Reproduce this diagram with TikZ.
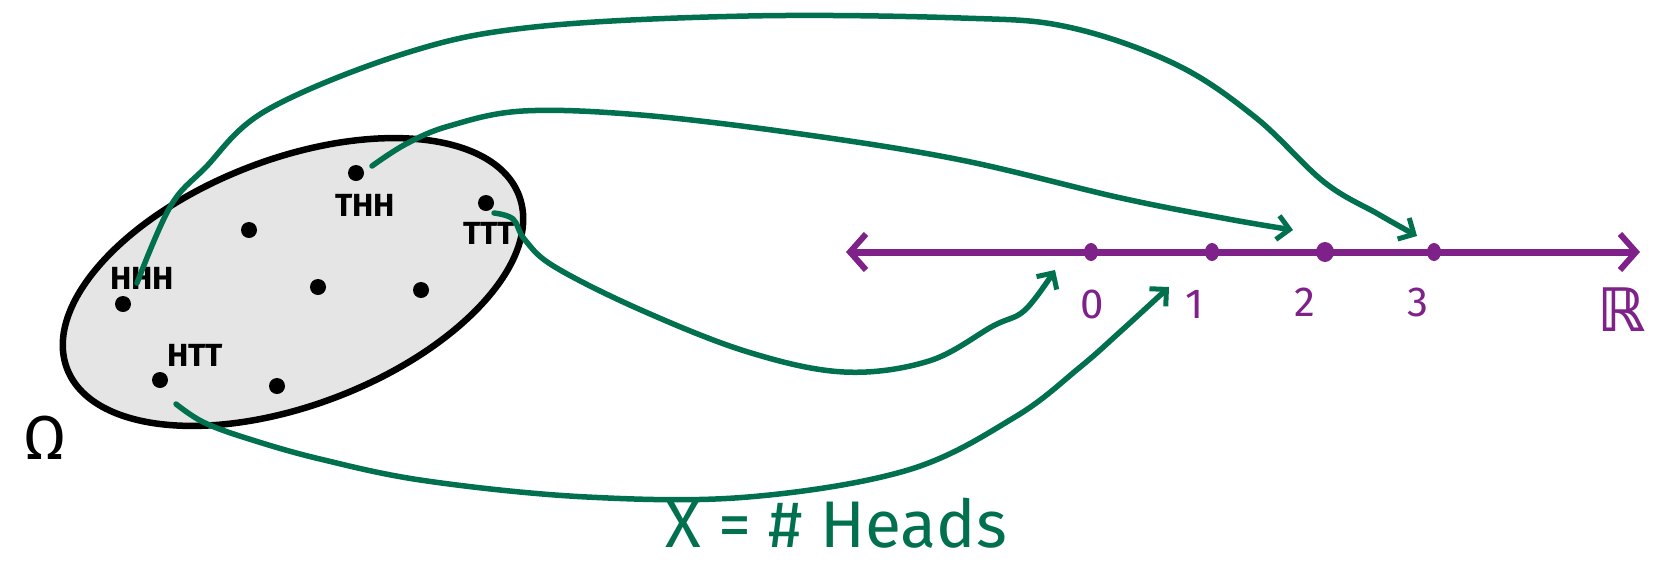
\documentclass[tikz,border=0pt]{standalone}
\usepackage{fontspec}
\newfontfamily\handfont{Fira Sans}
\newfontfamily\symfont{DejaVu Sans}
\usetikzlibrary{arrows.meta,shapes.geometric}
\definecolor{mygreen}{HTML}{00704F}
\definecolor{mypurple}{HTML}{7E2189}
\definecolor{mygray}{HTML}{E5E5E5}
\tikzset{
  dotpt/.style={circle,fill=black,inner sep=0pt,minimum size=16pt},
  lbl/.style={font=\handfont\bfseries\fontsize{32}{32}\selectfont,inner sep=0pt},
  numdot/.style={ellipse,fill=mypurple,inner sep=0pt,minimum width=14pt,minimum height=18pt},
  numlbl/.style={font=\handfont\fontsize{42}{42}\selectfont,text=mypurple,inner sep=0pt},
  mapcurve/.style={draw=mygreen,line width=5.5pt,line cap=round,line join=round,
     -{Straight Barb[length=12pt,width=24pt,line width=5pt]}},
}
\begin{document}
\begin{tikzpicture}[x=1pt,y=-1pt]
\useasboundingbox (0,0) rectangle (1675,566);
% sample space
\draw[line width=6.5pt,fill=mygray,shift={(293,282)},rotate=21] (0,0) ellipse [x radius=242pt,y radius=123pt];
\node[dotpt] (thh) at (356,173) {};
\node[dotpt] (ttt) at (486,203) {};
\node[dotpt] (d1) at (249,230) {};
\node[dotpt] (hhh) at (123,304) {};
\node[dotpt] (d2) at (318,287) {};
\node[dotpt] (d3) at (421,290) {};
\node[dotpt] (htt) at (160,380) {};
\node[dotpt] (d4) at (277,386) {};
\node[lbl] (lthh) at (365,205) {THH};
\node[lbl] (lttt) at (489,233) {TTT};
\node[lbl] (lhhh) at (142,278) {HHH};
\node[lbl] (lhtt) at (195,355) {HTT};
\node[font=\handfont\fontsize{62}{62}\selectfont,inner sep=0pt] (omega) at (45,438) {Ω};
% real line
\coordinate (lineL) at (846,252);
\coordinate (lineR) at (1640,252);
\draw[mypurple,line width=7pt,{Straight Barb[length=16pt,width=36pt,line width=6pt]}-{Straight Barb[length=16pt,width=36pt,line width=6pt]}] (lineL) -- (lineR);
\node[numdot] (n0) at (1091,252) {};
\node[numdot] (n1) at (1212,252) {};
\node[numdot,minimum width=18pt,minimum height=20pt] (n2) at (1325,252) {};
\node[numdot] (n3) at (1434,252) {};
\node[numlbl] (l0) at (1092,304) {0};
\node[numlbl] (l1) at (1195,304) {1};
\node[numlbl] (l2) at (1305,302) {2};
\node[numlbl] (l3) at (1418,302) {3};
\node[font=\symfont\bfseries\fontsize{60}{60}\selectfont,text=mypurple,inner sep=0pt] (lR) at (1622,310) {ℝ};
% end coordinates of the maps
\coordinate (s1) at (137,283);
\coordinate (e1) at (1417,236);
\coordinate (s2) at (372,166);
\coordinate (e2) at (1293,230);
\coordinate (s3) at (494,213);
\coordinate (e3) at (1055,270);
\coordinate (s4) at (176,404);
\coordinate (e4) at (1169,287);
\draw[mapcurve] plot[smooth,tension=0.6] coordinates {(s1) (170,207) (205,168) (267,110) (406,53) (534,27) (748,16) (961,18) (1068,27) (1175,64) (1255,117) (1324,182) (1378,214) (e1)};
\draw[mapcurve] plot[smooth,tension=0.6] coordinates {(s2) (406,144) (449,126) (523,111) (641,115) (801,134) (961,160) (1121,198) (1228,219) (e2)};
\draw[mapcurve] plot[smooth,tension=0.6] coordinates {(s3) (513,219) (525,240) (555,267) (641,310) (748,352) (844,372) (929,361) (993,326) (1025,310) (e3)};
\draw[mapcurve] plot[smooth,tension=0.6] coordinates {(s4) (203,422) (246,438) (320,459) (427,481) (587,497) (748,497) (908,470) (1015,417) (1079,368) (1121,331) (e4)};
\node[font=\handfont\fontsize{66}{66}\selectfont,text=mygreen,inner sep=0pt] (fx) at (836,523) {X = \# Heads};
\end{tikzpicture}
\end{document}
